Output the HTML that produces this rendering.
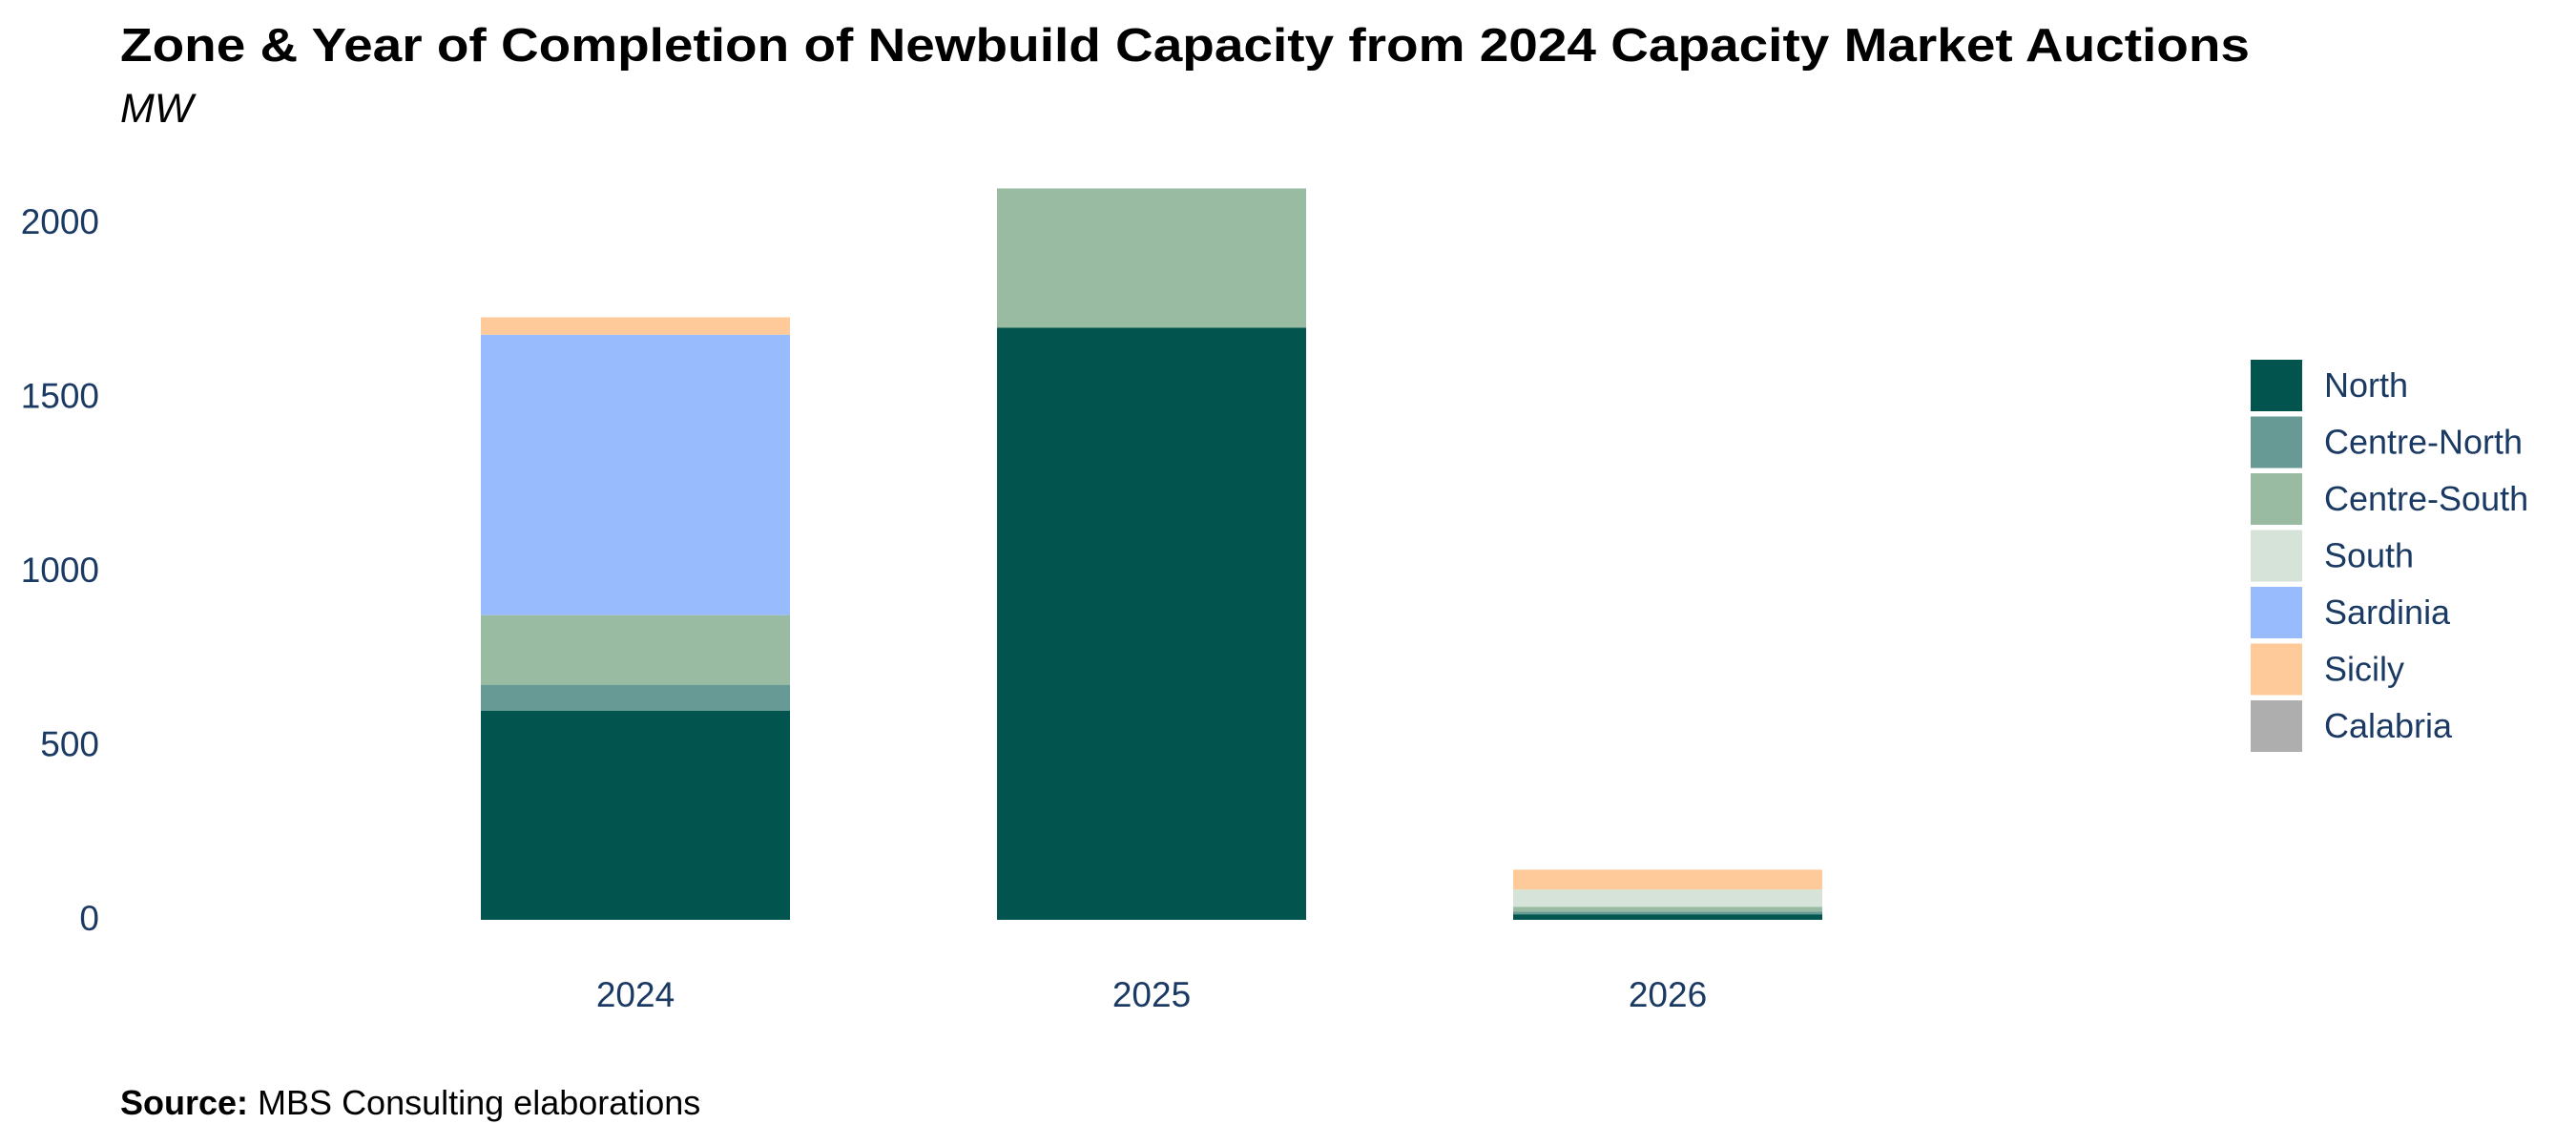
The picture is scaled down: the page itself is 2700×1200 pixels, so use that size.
<!DOCTYPE html>
<html><head><meta charset="utf-8"><style>
html,body{margin:0;padding:0;background:#fff;}
svg{display:block;font-family:"Liberation Sans",Arial,sans-serif;}
</style></head><body>
<svg id="chart" width="2700" height="1200" viewBox="0 0 2700 1200">
<text x="126" y="64" font-size="49" font-weight="bold" fill="#000" textLength="2232" lengthAdjust="spacingAndGlyphs">Zone &amp; Year of Completion of Newbuild Capacity from 2024 Capacity Market Auctions</text>
<text x="126" y="128" font-size="43" font-style="italic" fill="#000">MW</text>
<g id="yaxis"></g>
<g id="bars"></g>
<g id="xaxis"></g>
<g id="legend"></g>
<text x="126" y="1168" font-size="36" fill="#000"><tspan font-weight="bold">Source:</tspan> MBS Consulting elaborations</text>
</svg>
<script>
const categories = ["2024","2025","2026"];
const zones = ["North","Centre-North","Centre-South","South","Sardinia","Sicily","Calabria"];
const colors = ["#02554F","#679A94","#99BBA2","#D5E3D8","#98BBFE","#FFCA99","#AEAEAE"];
const north = [600,1700,16];
const centreNorth = [75,0,8];
const centreSouth = [200,400,13];
const south = [0,0,50];
const sardinia = [805,0,0];
const sicily = [50,0,57];
const calabria = [0,0,0];
const yTicks = [0,500,1000,1500,2000];

const series = [north,centreNorth,centreSouth,south,sardinia,sicily,calabria];
const NS = "http://www.w3.org/2000/svg";
const y0 = 964, pxPerUnit = 182.5/500;
const yScale = v => y0 - v*pxPerUnit;
const xCenter = i => 666 + i*541;
const barW = 324;
const txt = "#1B3A63";
function mk(tag, attrs, parent){const e=document.createElementNS(NS,tag);for(const k in attrs)e.setAttribute(k,attrs[k]);parent.appendChild(e);return e;}

const ya = document.getElementById("yaxis");
yTicks.forEach(t=>{
  const e = mk("text",{x:104,y:yScale(t)+11,"font-size":37,fill:txt,"text-anchor":"end"},ya);
  
  
  e.textContent = t;
});

const bg = document.getElementById("bars");
categories.forEach((c,i)=>{
  let cum = 0;
  series.forEach((s,j)=>{
    const v = s[i];
    if(v<=0) return;
    const r = mk("rect",{x:xCenter(i)-barW/2,y:yScale(cum+v),width:barW,height:v*pxPerUnit,fill:colors[j]},bg);
    
    
    cum += v;
  });
});

const xa = document.getElementById("xaxis");
categories.forEach((c,i)=>{
  const e = mk("text",{x:xCenter(i),y:1055,"font-size":37,fill:txt,"text-anchor":"middle"},xa);
  
  
  e.textContent = c;
});

const lg = document.getElementById("legend");
zones.forEach((z,j)=>{
  const cy = 404 + j*59.5;
  const g = mk("g",{},lg);
  
  
  mk("rect",{x:2359,y:cy-27,width:54,height:54,fill:colors[j]},g);
  const t = mk("text",{x:2436,y:cy+12,"font-size":36,fill:txt},g);
  t.textContent = z;
});
</script>
</body></html>
